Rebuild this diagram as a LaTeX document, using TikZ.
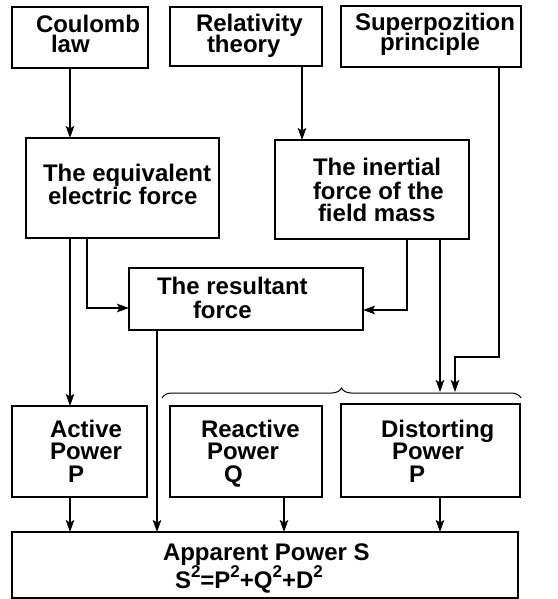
\documentclass[tikz,border=0pt]{standalone}
\usepackage{fontspec}
\setmainfont{Liberation Sans}
\usetikzlibrary{arrows.meta,decorations.pathreplacing}
\newcommand\sqr{\raisebox{0.45em}{\fontsize{17}{17}\selectfont 2}}
\begin{document}
\begin{tikzpicture}[x=1pt,y=-1pt,
  box/.style={draw,line width=1.3pt,rectangle,inner sep=0pt,outer sep=0pt,anchor=north west},
  txt/.style={anchor=base west,inner sep=0pt,outer sep=0pt,font=\fontsize{24}{24}\selectfont\bfseries},
  arr/.style={line width=1.2pt,-{Stealth[length=12pt,width=8.5pt,inset=2.5pt]}}]
\useasboundingbox (0,0) rectangle (557,599);
% boxes
\node[box,minimum width=136pt,minimum height=61pt] (coul) at (12,7) {};
\node[box,minimum width=152pt,minimum height=59pt] (rel) at (170,7) {};
\node[box,minimum width=180pt,minimum height=61pt] (sup) at (341,6) {};
\node[box,minimum width=193pt,minimum height=100pt] (equiv) at (26,138) {};
\node[box,minimum width=194pt,minimum height=99pt] (inert) at (275,140) {};
\node[box,minimum width=234pt,minimum height=62pt] (res) at (129,268) {};
\node[box,minimum width=135pt,minimum height=91pt] (act) at (12,406) {};
\node[box,minimum width=152pt,minimum height=91pt] (react) at (170,406) {};
\node[box,minimum width=179pt,minimum height=93pt] (dist) at (341,404) {};
\node[box,minimum width=506pt,minimum height=66pt] (app) at (12,532) {};
% texts
\node[txt] (t1a) at (36,33) {Coulomb};
\node[txt] (t1b) at (51,53) {law};
\node[txt] (t2a) at (196,32) {Relativity};
\node[txt] (t2b) at (207,53) {theory};
\node[txt] (t3a) at (355,31) {Superpozition};
\node[txt] (t3b) at (380,51) {principle};
\node[txt] (t4a) at (43,181) {The equivalent};
\node[txt] (t4b) at (48,204) {electric force};
\node[txt] (t5a) at (313,175) {The inertial};
\node[txt] (t5b) at (313,199) {force of the};
\node[txt] (t5c) at (318,221) {field mass};
\node[txt] (t6a) at (157,294) {The resultant};
\node[txt] (t6b) at (193,318) {force};
\node[txt] (t7a) at (50,437) {Active};
\node[txt] (t7b) at (50,459) {Power};
\node[txt] (t7c) at (68,482) {P};
\node[txt] (t8a) at (201,437) {Reactive};
\node[txt] (t8b) at (207,459) {Power};
\node[txt] (t8c) at (224,482) {Q};
\node[txt] (t9a) at (381,437) {Distorting};
\node[txt] (t9b) at (392,459) {Power};
\node[txt] (t9c) at (409,482) {P};
\node[txt] (t10a) at (163,560) {Apparent Power S};
\node[txt] (t10b) at (175,588) {S\sqr=P\sqr+Q\sqr+D\sqr};
% helper coordinates
\coordinate (x70) at (70,0);
\coordinate (x302) at (302,0);
\coordinate (x157) at (157,0);
\coordinate (x284) at (284,0);
\coordinate (s1) at (499,357);
\coordinate (s2) at (455,357);
\coordinate (t455) at (455,392);
\coordinate (t440) at (440,392);
\coordinate (e1) at (87,308);
\coordinate (i1) at (407,310);
\coordinate (bL) at (162,398);
\coordinate (bR) at (521,398);
% connectors
\draw[arr] (coul.south -| x70) -- (equiv.north -| x70);
\draw[arr] (rel.south -| x302) -- (inert.north -| x302);
\draw[arr] (sup.south -| s1) -- (s1) -- (s2) -- (t455);
\draw[arr] (equiv.south -| e1) |- (res.west |- e1);
\draw[arr] (inert.south -| i1) |- (res.east |- i1);
\draw[arr] (equiv.south -| x70) -- (act.north -| x70);
\draw[arr] (res.south -| x157) -- (app.north -| x157);
\draw[arr] (inert.south -| t440) -- (t440);
\draw[arr] (act.south -| x70) -- (app.north -| x70);
\draw[arr] (react.south -| x284) -- (app.north -| x284);
\draw[arr] (dist.south -| t440) -- (app.north -| t440);
\draw[line width=1pt,decorate,decoration={brace,amplitude=10pt}] (bL) -- (bR);
\end{tikzpicture}
\end{document}
